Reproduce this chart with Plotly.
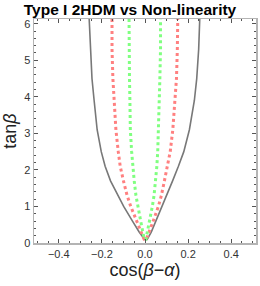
import plotly.graph_objects as go

# tan(beta) sample levels (top to bottom)
tan_beta = [6.13, 5.3, 4.5, 3.9, 3.1, 2.5, 2.1, 1.7, 1.3, 1.0, 0.6, 0.3, 0.1]

# gray solid contour: left and right branches
gray_left = [-0.259, -0.254, -0.246, -0.236, -0.222, -0.203, -0.185, -0.160, -0.127, -0.099, -0.058, -0.027, -0.002]
gray_right = [0.254, 0.249, 0.240, 0.229, 0.206, 0.180, 0.155, 0.128, 0.100, 0.080, 0.051, 0.029, 0.010]

# red dotted contour
red_left = [-0.153, -0.153, -0.149, -0.143, -0.135, -0.124, -0.115, -0.100, -0.083, -0.066, -0.039, -0.019, -0.004]
red_right = [0.152, 0.150, 0.146, 0.140, 0.129, 0.117, 0.105, 0.090, 0.076, 0.062, 0.038, 0.020, 0.006]

# green dotted contour
green_left = [-0.074, -0.074, -0.072, -0.070, -0.068, -0.062, -0.057, -0.050, -0.042, -0.034, -0.020, -0.010, -0.003]
green_right = [0.072, 0.072, 0.069, 0.066, 0.063, 0.059, 0.055, 0.049, 0.042, 0.034, 0.021, 0.011, 0.004]

x_ticks = [-0.4, -0.2, 0.0, 0.2, 0.4]
y_ticks = [0, 1, 2, 3, 4, 5, 6]
y_tick_text = ["0", "1", "2", "3", "4", "5", "6"]


def branch(left, right):
    xs = list(left) + list(reversed(right))
    ys = list(tan_beta) + list(reversed(tan_beta))
    return xs, ys


fig = go.Figure()

for left, right, color, width, dash in [
    (gray_left, gray_right, "rgb(120,120,120)", 1.6, "solid"),
    (red_left, red_right, "rgb(255,128,128)", 3, "dot"),
    (green_left, green_right, "rgb(128,255,128)", 3, "dot"),
]:
    xs, ys = branch(left, right)
    fig.add_trace(go.Scatter(x=xs, y=ys, mode="lines",
                             line=dict(color=color, width=width, dash=dash),
                             showlegend=False, hoverinfo="skip"))

font_family = "Liberation Sans, Arial, sans-serif"
tick_font = dict(family=font_family, size=11, color="#333")
axis_common = dict(
    showgrid=False, zeroline=False, showline=True, mirror="ticks",
    linecolor="#b4b4b4", linewidth=1.5,
    ticks="inside", ticklen=4, tickwidth=1, tickcolor="#555",
    tickfont=tick_font, ticklabeloverflow="allow",
)

fig.update_layout(
    width=260, height=286,
    margin=dict(l=34, r=2, t=19, b=43),
    plot_bgcolor="white", paper_bgcolor="white",
    font=dict(family=font_family),
    hovermode=False, dragmode=False,
    title=dict(text="<b>Type I 2HDM vs Non-linearity</b>",
               x=0.5, xref="container", xanchor="center",
               y=1 - 10 / 286, yref="container", yanchor="middle",
               font=dict(family=font_family, size=15.5, color="black")),
    xaxis=dict(range=[-0.515, 0.515], tickvals=x_ticks, tickformat=".1f",
               minor=dict(dtick=0.05, ticks="inside", ticklen=2, tickwidth=1, tickcolor="#555"),
               title=dict(text="cos(<i>β</i>−<i>α</i>)", standoff=4,
                          font=dict(family=font_family, size=18, color="#222")),
               **axis_common),
    yaxis=dict(range=[0, 6.13], tickvals=y_ticks, ticktext=y_tick_text,
               minor=dict(dtick=0.2, ticks="inside", ticklen=2, tickwidth=1, tickcolor="#555"),
               title=dict(text="tan<i>β</i>", standoff=4,
                          font=dict(family=font_family, size=18, color="#222")),
               **axis_common),
)

post = (
    "document.body.style.margin='0';document.body.style.padding='0';"
)
fig.write_html("out.html", config={"displayModeBar": False, "staticPlot": True},
               post_script=post)
